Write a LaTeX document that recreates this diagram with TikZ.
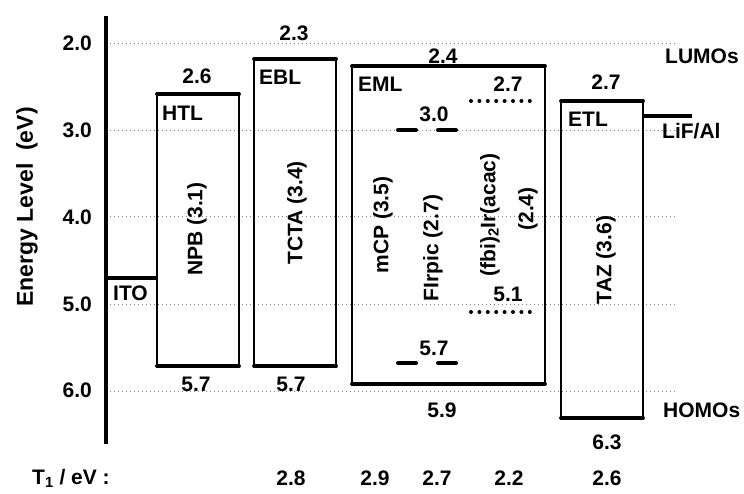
\documentclass[tikz,border=0pt]{standalone}
\usepackage{fontspec}
\setmainfont{Liberation Sans}
\begin{document}
\begin{tikzpicture}[x=1pt,y=-1pt,
  lbl/.style={font=\bfseries\fontsize{21}{24}\selectfont, inner sep=0pt},
  big/.style={font=\bfseries\fontsize{23}{27}\selectfont, inner sep=0pt},
  gridln/.style={gray, line width=1pt, dash pattern=on 1pt off 3pt},
  side/.style={line width=2.6pt, line join=round},
  edge/.style={line width=3.8pt, line cap=round},
  dashlvl/.style={line width=4pt, line cap=round},
  dotlvl/.style={line width=4pt, line cap=round, dash pattern=on 0pt off 8.4pt},
  axisln/.style={line width=3.4pt},
  lvl/.style={line width=3.2pt}]
\useasboundingbox (0,0) rectangle (744,493);
% grid lines
\foreach \yy in {43,130,216.5,304,391}
  \draw[gridln] (110,\yy) -- (675,\yy);
% axis
\coordinate (axtop) at (106,16);
\coordinate (axbot) at (106,444);
\draw[axisln] (axtop) -- (axbot);
% tick labels
\node[lbl, anchor=east] (t2) at (92,43) {2.0};
\node[lbl, anchor=east] (t3) at (92,130) {3.0};
\node[lbl, anchor=east] (t4) at (92,217) {4.0};
\node[lbl, anchor=east] (t5) at (92,304) {5.0};
\node[lbl, anchor=east] (t6) at (92,390) {6.0};
\node[big, rotate=90] (ylab) at (27,207) {Energy Level\ \ (eV)};
% ITO
\coordinate (itoA) at (106,278);
\coordinate (itoB) at (157,278);
\draw[lvl] (itoA) -- (itoB);
\node[lbl, anchor=west] (ito) at (113,293) {ITO};
% HTL box
\coordinate (htlTL) at (157,94); \coordinate (htlTR) at (239,94);
\coordinate (htlBL) at (157,366); \coordinate (htlBR) at (239,366);
\draw[side] (htlTL) -- (htlBL) (htlTR) -- (htlBR);
\draw[edge] (htlTL) -- (htlTR) (htlBL) -- (htlBR);
\node[lbl] (htlL) at (197,76) {2.6};
\node[lbl, anchor=west] (htl) at (162,113) {HTL};
\node[lbl, rotate=90] (npb) at (197,229) {NPB (3.1)};
\node[lbl] (htlH) at (196,384) {5.7};
% EBL box
\coordinate (eblTL) at (254,59); \coordinate (eblTR) at (336,59);
\coordinate (eblBL) at (254,366); \coordinate (eblBR) at (336,366);
\draw[side] (eblTL) -- (eblBL) (eblTR) -- (eblBR);
\draw[edge] (eblTL) -- (eblTR) (eblBL) -- (eblBR);
\node[lbl] (eblL) at (294,33) {2.3};
\node[lbl, anchor=west] (ebl) at (259,77) {EBL};
\node[lbl, rotate=90] (tcta) at (297,213) {TCTA (3.4)};
\node[lbl] (eblH) at (291,384) {5.7};
% EML box
\coordinate (emlTL) at (352,66); \coordinate (emlTR) at (545,66);
\coordinate (emlBL) at (352,384); \coordinate (emlBR) at (545,384);
\draw[side] (emlTL) -- (emlBL) (emlTR) -- (emlBR);
\draw[edge] (emlTL) -- (emlTR) (emlBL) -- (emlBR);
\node[lbl] (emlL) at (443,56) {2.4};
\node[lbl, anchor=west] (eml) at (358,84) {EML};
\node[lbl] (fbiL) at (508,84) {2.7};
\coordinate (fbiLa) at (471,101); \coordinate (fbiLb) at (538,101);
\draw[dotlvl] (fbiLa) -- (fbiLb);
\node[lbl] (firL) at (434,114) {3.0};
\coordinate (firLa) at (398,130); \coordinate (firLb) at (416,130);
\coordinate (firLc) at (438,130); \coordinate (firLd) at (456,130);
\draw[dashlvl] (firLa) -- (firLb) (firLc) -- (firLd);
\node[lbl, rotate=90] (mcp) at (383,225) {mCP (3.5)};
\node[lbl, rotate=90] (firpic) at (433,248) {FIrpic (2.7)};
\node[lbl, rotate=90] (fbi) at (490,215) {(fbi)\textsubscript{2}Ir(acac)};
\node[lbl, rotate=90] (fbiT) at (528,209) {(2.4)};
\node[lbl] (fbiH) at (508,294) {5.1};
\coordinate (fbiHa) at (471,312); \coordinate (fbiHb) at (538,312);
\draw[dotlvl] (fbiHa) -- (fbiHb);
\node[lbl] (firH) at (434,348) {5.7};
\coordinate (firHa) at (398,363); \coordinate (firHb) at (416,363);
\coordinate (firHc) at (438,363); \coordinate (firHd) at (456,363);
\draw[dashlvl] (firHa) -- (firHb) (firHc) -- (firHd);
\node[lbl] (emlH) at (442,410) {5.9};
% ETL box
\coordinate (etlTL) at (561,101); \coordinate (etlTR) at (643,101);
\coordinate (etlBL) at (561,418); \coordinate (etlBR) at (643,418);
\draw[side] (etlTL) -- (etlBL) (etlTR) -- (etlBR);
\draw[edge] (etlTL) -- (etlTR) (etlBL) -- (etlBR);
\node[lbl] (etlL) at (606,82) {2.7};
\node[lbl, anchor=west] (etl) at (568,119) {ETL};
\node[lbl, rotate=90] (taz) at (606,260) {TAZ (3.6)};
\node[lbl] (etlH) at (607,442) {6.3};
% LiF/Al
\coordinate (lifA) at (643,116); \coordinate (lifB) at (692,116);
\draw[lvl] (lifA) -- (lifB);
\node[lbl, anchor=west] (lif) at (662,131) {LiF/Al};
\node[lbl, anchor=west] (lumo) at (665,56) {LUMOs};
\node[lbl, anchor=west] (homo) at (663,410) {HOMOs};
% T1 row
\node[lbl, anchor=west] (t1) at (32,478) {T\textsubscript{1} / eV :};
\node[lbl] (t1a) at (291,478) {2.8};
\node[lbl] (t1b) at (375,478) {2.9};
\node[lbl] (t1c) at (437,478) {2.7};
\node[lbl] (t1d) at (509,478) {2.2};
\node[lbl] (t1e) at (607,478) {2.6};
\end{tikzpicture}
\end{document}
